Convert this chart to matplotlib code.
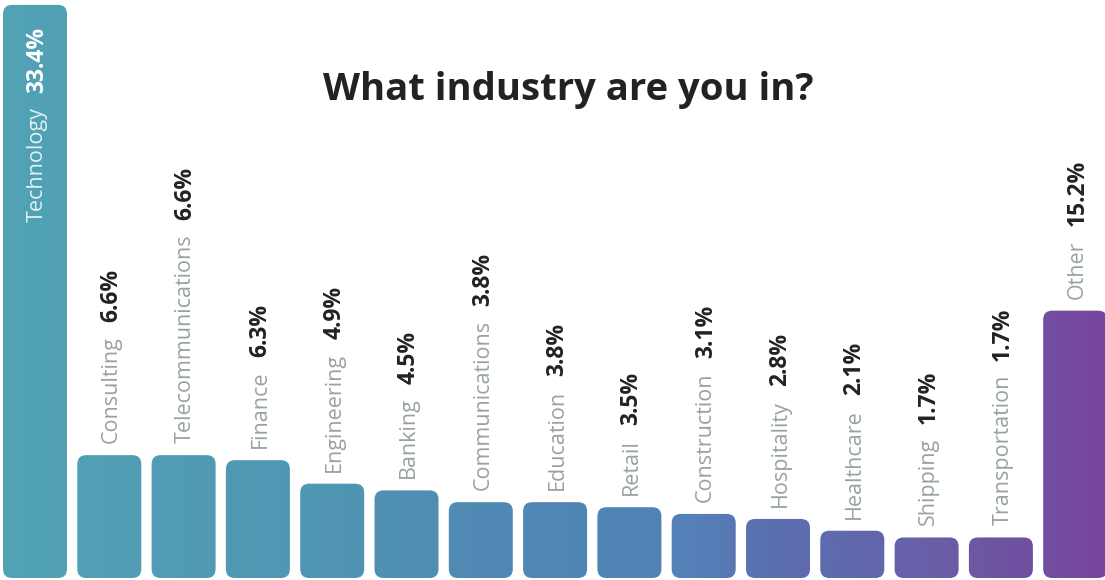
import matplotlib
matplotlib.use("Agg")
import matplotlib.pyplot as plt
import numpy as np
from matplotlib.patches import FancyBboxPatch
from matplotlib.colors import LinearSegmentedColormap

categories = ["Technology", "Consulting", "Telecommunications", "Finance", "Engineering",
              "Banking", "Communications", "Education", "Retail", "Construction",
              "Hospitality", "Healthcare", "Shipping", "Transportation", "Other"]
values = [33.4, 6.6, 6.6, 6.3, 4.9, 4.5, 3.8, 3.8, 3.5, 3.1, 2.8, 2.1, 1.7, 1.7, 15.2]
title = "What industry are you in?"

W, H, DPI = 1105, 580, 100
PITCH = 74.3      # px per category slot
PXU = 16.8        # px per percentage point
BASE = -12 / PXU  # bar baseline (data units)

fig = plt.figure(figsize=(W / DPI, H / DPI), dpi=DPI)
fig.patch.set_facecolor("white")
ax = fig.add_axes([0, 0, 1, 1])
ax.set_axis_off()
x0 = -35 / PITCH
ax.set_xlim(x0, x0 + W / PITCH)
y0 = BASE - 2 / PXU
ax.set_ylim(y0, y0 + H / PXU)

stops = [(0.0, "#52a3b5"), (0.30, "#5096b3"), (0.43, "#5189b3"), (0.57, "#4f84b6"),
         (0.63, "#5580b8"), (0.70, "#5a6fae"), (0.77, "#6168ae"), (0.84, "#6a5fa8"),
         (0.90, "#6d55a2"), (1.0, "#7846a0")]
cmap = LinearSegmentedColormap.from_list("grad", stops)
grad = np.linspace(0, 1, 1024).reshape(1, -1)
ext = (ax.get_xlim()[0], ax.get_xlim()[1], ax.get_ylim()[0], ax.get_ylim()[1])

bw = 64 / PITCH
rx = 9 / PITCH
aspect = (1 / PXU) / (1 / PITCH)
gray = "#98a2a1"
dark = "#222222"
fs_cat = 15.5
fs_val = 16.5
pt = 72 / DPI  # points per pixel

for i, (cat, v) in enumerate(zip(categories, values)):
    patch = FancyBboxPatch((i - bw / 2, BASE), bw, v - BASE,
                           boxstyle=f"round,pad=0,rounding_size={rx}",
                           mutation_aspect=aspect, facecolor="none", edgecolor="none")
    ax.add_patch(patch)
    im = ax.imshow(grad, cmap=cmap, extent=ext, aspect="auto", interpolation="bilinear", zorder=1)
    im.set_clip_path(patch)
    label_val = f"{v}%"
    if i == 0:
        tv = ax.annotate(label_val, xy=(i, v), xytext=(2 * pt, -22 * pt), textcoords="offset points",
                         rotation=90, ha="center", va="top", fontsize=fs_val, fontweight="bold",
                         color="white", family="Open Sans", zorder=3)
        ax.annotate(cat, xy=(0.5, 0), xycoords=tv, xytext=(0, -14 * pt), textcoords="offset points",
                    rotation=90, ha="center", va="top", fontsize=fs_cat, color="#e2f0f3",
                    family="Open Sans", zorder=3)
    else:
        tc = ax.annotate(cat, xy=(i, v), xytext=(2 * pt, 12 * pt), textcoords="offset points",
                         rotation=90, ha="center", va="bottom", fontsize=fs_cat, color=gray,
                         family="Open Sans", zorder=3)
        ax.annotate(label_val, xy=(0.5, 1), xycoords=tc, xytext=(0, 14 * pt), textcoords="offset points",
                    rotation=90, ha="center", va="bottom", fontsize=fs_val, fontweight="bold",
                    color=dark, family="Open Sans", zorder=3)

fig.text(568 / W, 1 - 90 / H, title, ha="center", va="center", fontsize=27.5,
         fontweight="bold", color=dark, family="Open Sans")

fig.savefig("out.png", dpi=DPI, facecolor="white")
